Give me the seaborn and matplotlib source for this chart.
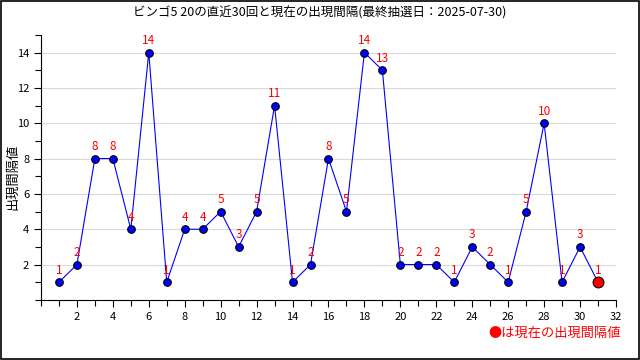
import seaborn as sns
import numpy as np
import pandas as pd
import matplotlib.pyplot as plt
from matplotlib.ticker import MultipleLocator
from matplotlib.patches import Rectangle

draws = list(range(1, 32))
intervals = [1, 2, 8, 8, 4, 14, 1, 4, 4, 5, 3, 5, 11, 1, 2, 8, 5, 14, 13,
             2, 2, 2, 1, 3, 2, 1, 5, 10, 1, 3, 1]
title = 'ビンゴ5 20の直近30回と現在の出現間隔(最終抽選日：2025-07-30)'

df = pd.DataFrame({'draw': draws, 'interval': intervals})
past = df.iloc[:-1]
now = df.iloc[-1:]

sns.set_style('white')
plt.rcParams['font.family'] = ['Noto Sans CJK JP', 'DejaVu Sans']
plt.rcParams['text.color'] = 'black'
plt.rcParams['xtick.color'] = 'black'
plt.rcParams['ytick.color'] = 'black'

fig = plt.figure(figsize=(6.4, 3.6), dpi=100)
ax = fig.add_axes([0.064, 0.167, 0.8985, 0.736])

sns.lineplot(data=df, x='draw', y='interval', ax=ax, color='blue', linewidth=0.8)
sns.scatterplot(data=past, x='draw', y='interval', ax=ax, color='blue',
                edgecolor='black', linewidth=0.8, s=30, zorder=3)
sns.scatterplot(data=now, x='draw', y='interval', ax=ax, color='red',
                edgecolor='black', linewidth=0.8, s=60, zorder=4)

for x, y in zip(draws, intervals):
    ax.annotate(str(y), (x, y), xytext=(0, 4), textcoords='offset points',
                ha='center', va='bottom', color='red', fontsize=8.5)

ax.set_xlim(0, 32)
ax.set_ylim(0, 15)
ax.set_xticks(list(range(2, 33, 2)))
ax.xaxis.set_minor_locator(MultipleLocator(1))
ax.set_yticks([2, 4, 6, 8, 10, 12, 14])
ax.yaxis.set_minor_locator(MultipleLocator(1))
ax.tick_params(which='both', direction='out', bottom=True, left=True,
               labelsize=8, color='black', labelcolor='black')
ax.tick_params(which='major', length=5, width=0.8)
ax.tick_params(which='minor', length=4, width=0.8)
ax.grid(axis='y', color='#d9d9d9', linewidth=0.8)
ax.set_axisbelow(True)
for side in ['top', 'right']:
    ax.spines[side].set_visible(False)
for side in ['left', 'bottom']:
    ax.spines[side].set_color('black')
    ax.spines[side].set_linewidth(0.8)

ax.set_xlabel('')
ax.set_ylabel('')
fig.text(0.02, 0.51, '出現間隔値', rotation=90, ha='center', va='center',
         fontsize=9.5, color='black')
fig.text(0.5, 0.965, title, ha='center', va='center', fontsize=9, color='black')
fig.text(0.97, 0.075, '●は現在の出現間隔値', ha='right', va='center',
         color='red', fontsize=9.5)

fig.patches.append(Rectangle((0.001, 0.002), 0.997, 0.995, transform=fig.transFigure,
                             fill=False, edgecolor='black', linewidth=1.2))

fig.savefig('out.png', dpi=100)
